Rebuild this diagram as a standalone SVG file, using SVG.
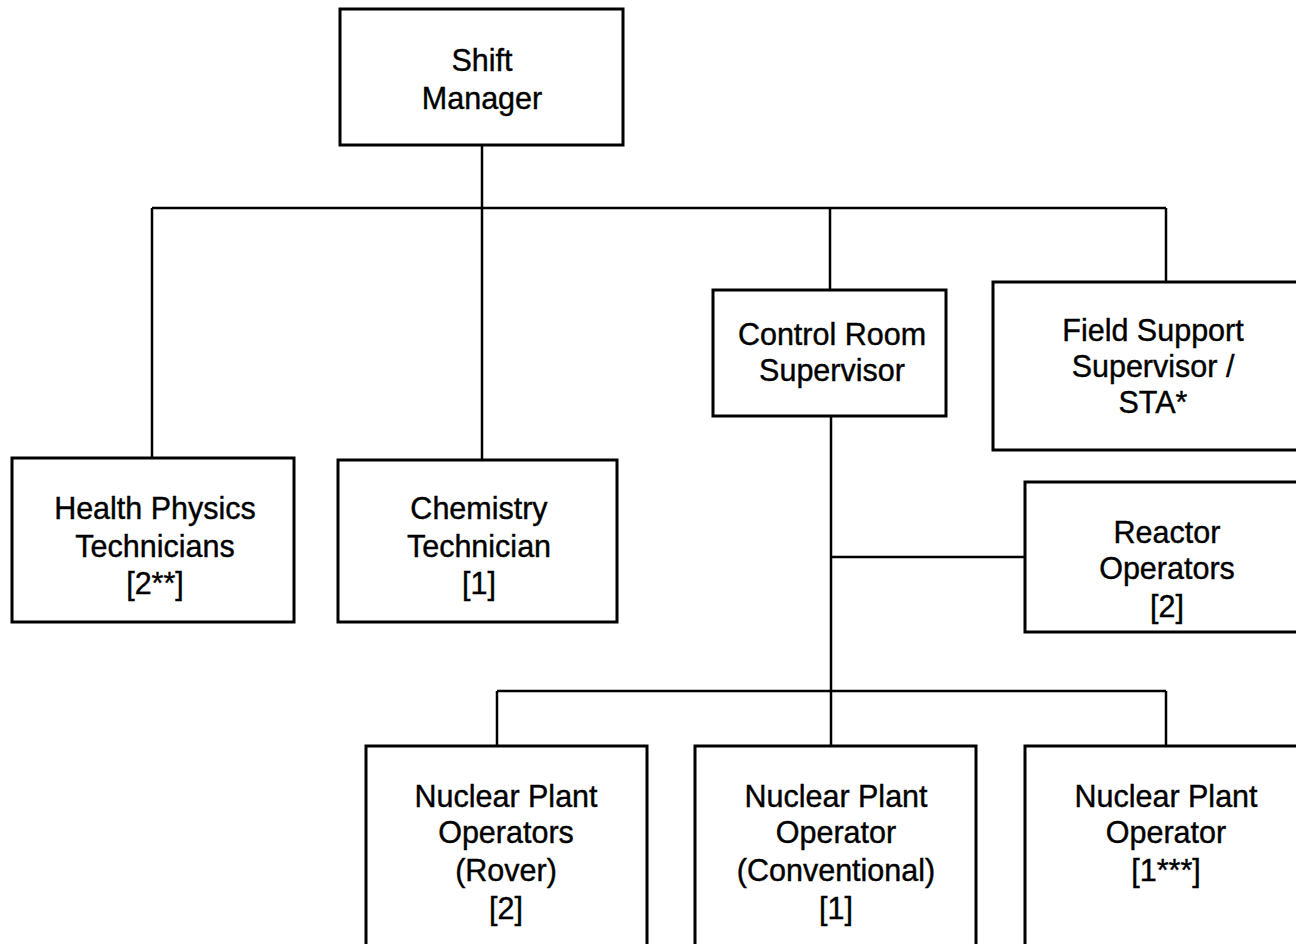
<svg xmlns="http://www.w3.org/2000/svg" width="1296" height="944" viewBox="0 0 1296 944">
<style>
.box{fill:#fff;stroke:#000;stroke-width:3}
.ln{stroke:#000;stroke-width:2.5;fill:none}
text{font-family:"Liberation Sans",Arial,sans-serif;font-size:30.5px;fill:#000;stroke:#000;stroke-width:0.4;text-anchor:middle}
</style>
<rect width="1296" height="944" fill="#fff"/>
<g id="connectors">
<path class="ln" d="M482 145V460"/>
<path class="ln" d="M152 208H1166"/>
<path class="ln" d="M152 208V458"/>
<path class="ln" d="M830 208V290"/>
<path class="ln" d="M1166 208V282"/>
<path class="ln" d="M831 416V746"/>
<path class="ln" d="M831 557H1025"/>
<path class="ln" d="M497 691H1166"/>
<path class="ln" d="M497 691V746"/>
<path class="ln" d="M1166 691V746"/>
</g>
<g id="shift-manager"><rect class="box" x="340" y="9" width="283" height="136"/><text x="482" y="71">Shift</text><text x="482" y="109">Manager</text></g>
<g id="health-physics"><rect class="box" x="12" y="458" width="282" height="164"/><text x="155" y="519">Health Physics</text><text x="155" y="557">Technicians</text><text x="155" y="594">[2**]</text></g>
<g id="chemistry"><rect class="box" x="338" y="460" width="279" height="162"/><text x="479" y="519">Chemistry</text><text x="479" y="557">Technician</text><text x="479" y="594">[1]</text></g>
<g id="control-room"><rect class="box" x="713" y="290" width="233" height="126"/><text x="832" y="345">Control Room</text><text x="832" y="381">Supervisor</text></g>
<g id="field-support"><rect class="box" x="993" y="282" width="310" height="168"/><text x="1153" y="341">Field Support</text><text x="1153" y="377">Supervisor /</text><text x="1153" y="413">STA*</text></g>
<g id="reactor"><rect class="box" x="1025" y="482" width="280" height="150"/><text x="1167" y="543">Reactor</text><text x="1167" y="579">Operators</text><text x="1167" y="617">[2]</text></g>
<g id="npo-rover"><rect class="box" x="366" y="746" width="281" height="210"/><text x="506" y="807">Nuclear Plant</text><text x="506" y="843">Operators</text><text x="506" y="881">(Rover)</text><text x="506" y="919">[2]</text></g>
<g id="npo-conv"><rect class="box" x="695" y="746" width="281" height="210"/><text x="836" y="807">Nuclear Plant</text><text x="836" y="843">Operator</text><text x="836" y="881">(Conventional)</text><text x="836" y="919">[1]</text></g>
<g id="npo-3"><rect class="box" x="1025" y="746" width="280" height="210"/><text x="1166" y="807">Nuclear Plant</text><text x="1166" y="843">Operator</text><text x="1166" y="881">[1***]</text></g>
</svg>
